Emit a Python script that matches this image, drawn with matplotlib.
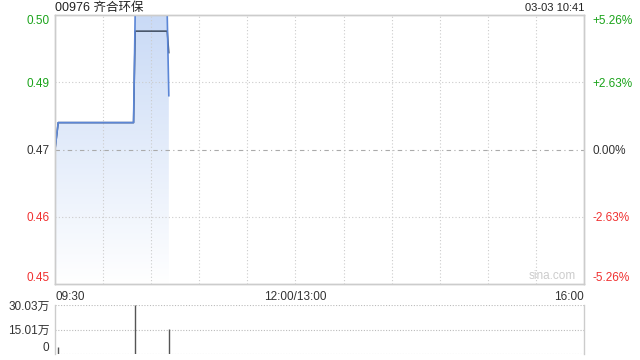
import numpy as np
import matplotlib.pyplot as plt
from matplotlib.patches import Polygon
from matplotlib.colors import LinearSegmentedColormap

plt.rcParams['font.family'] = ['Liberation Sans', 'Noto Sans CJK SC', 'DejaVu Sans']

# minutes since 09:30 (trading minutes, lunch break removed)
minutes = [0, 2, 49, 50, 70, 71]
price = [0.475, 0.480, 0.480, 0.500, 0.500, 0.485]
avg_price = [0.475, 0.480, 0.480, 0.497, 0.497, 0.493]
vol_minutes = [2, 50, 71]
volume = [40000, 300300, 152000]

prev_close = 0.475
y_ticks = [0.45, 0.4625, 0.475, 0.4875, 0.50]
pct_labels = ['-5.26%', '-2.63%', '0.00%', '+2.63%', '+5.26%']
x_ticks = [0, 150, 330]
x_labels = ['09:30', '12:00/13:00', '16:00']
vol_ticks = [0, 150150, 300300]
vol_labels = ['0', '15.01万', '30.03万']
total_min = 330

up_c, down_c, flat_c = '#1aa31a', '#f03030', '#333333'
grid_c = '#cccccc'

fig = plt.figure(figsize=(6.4, 3.6), dpi=100)
ax = fig.add_axes([55 / 640, 1 - 284 / 360, 529 / 640, 269 / 360])
axv = fig.add_axes([55 / 640, 1 - 354 / 360, 529 / 640, 49 / 360])

ax.set_xlim(0, total_min)
ax.set_ylim(0.45, 0.50)

# gradient fill under price line
grad = np.linspace(0, 1, 256).reshape(-1, 1)
cmap = LinearSegmentedColormap.from_list('g', ['#ffffff', '#c9daf6'])
im = ax.imshow(grad, cmap=cmap, aspect='auto', origin='lower',
               extent=[0, total_min, 0.45, 0.50], zorder=1)
poly_pts = [(minutes[0], 0.45)] + list(zip(minutes, price)) + [(minutes[-1], 0.45)]
clip = Polygon(poly_pts, closed=True, transform=ax.transData, facecolor='none', edgecolor='none')
ax.add_patch(clip)
im.set_clip_path(clip)

# grid
for i in range(1, 11):
    ax.axvline(i * 30, color=grid_c, lw=0.8, ls=(0, (1, 2)), zorder=2)
for t in y_ticks[1:-1]:
    if t == prev_close:
        ax.axhline(t, color='#aaaaaa', lw=0.8, ls=(0, (4, 3, 1, 3)), zorder=2)
    else:
        ax.axhline(t, color=grid_c, lw=0.8, ls=(0, (1, 2)), zorder=2)

ax.plot(minutes, avg_price, color='#3c4a5e', lw=1.1, zorder=3)
ax.plot(minutes, price, color='#5b86d6', lw=1.2, zorder=4)

ax.set_yticks(y_ticks)
ax.set_yticklabels([f'{v:.2f}' for v in y_ticks])
colors = [down_c, down_c, flat_c, up_c, up_c]
ax.set_xticks(x_ticks)
ax.set_xticklabels(x_labels)
xl = ax.get_xticklabels()
xl[0].set_ha('left')
xl[-1].set_ha('right')
ax.tick_params(axis='both', length=0, labelsize=8.5, colors=flat_c)
ax.tick_params(axis='y', pad=4)
ax.tick_params(axis='x', pad=5)
yl = ax.get_yticklabels()
for lab, c in zip(yl, colors):
    lab.set_color(c)
yl[0].set_va('bottom')
yl[-1].set_va('top')

ax2 = ax.twinx()
ax2.set_ylim(ax.get_ylim())
ax2.set_yticks(y_ticks)
ax2.set_yticklabels(pct_labels)
ax2.tick_params(axis='y', length=0, labelsize=8.5, pad=6)
yl2 = ax2.get_yticklabels()
for lab, c in zip(yl2, colors):
    lab.set_color(c)
yl2[0].set_va('bottom')
yl2[-1].set_va('top')

for a in (ax, ax2):
    for s in a.spines.values():
        s.set_color('#cccccc')
        s.set_linewidth(1)

fig.text(55 / 640, 1 - 8 / 360, '00976 齐合环保', fontsize=9, color='#222222',
         ha='left', va='center')
fig.text(584 / 640, 1 - 8 / 360, '03-03 10:41', fontsize=8, color='#222222',
         ha='right', va='center')
ax.text(0.985, 0.008, 'sina.com', transform=ax.transAxes, fontsize=8.5, color='#cccccc',
        ha='right', va='bottom')

# volume panel
axv.set_xlim(0, total_min)
axv.set_ylim(0, 300300)
axv.vlines(vol_minutes, 0, volume, color='#555555', lw=1)
for t in vol_ticks:
    axv.axhline(t, color='#bbbbbb', lw=0.8, ls=(0, (1, 1.5)), zorder=0)
axv.set_yticks(vol_ticks)
axv.set_yticklabels(vol_labels)
axv.set_xticks([])
axv.tick_params(axis='y', length=0, labelsize=8.5, colors=flat_c, pad=4)
axv.get_yticklabels()[0].set_va('bottom')
for k, s in axv.spines.items():
    s.set_color('#cccccc')
    s.set_linewidth(1)
axv.spines['top'].set_visible(False)
axv.spines['bottom'].set_visible(False)

fig.savefig('out.png', dpi=100)
